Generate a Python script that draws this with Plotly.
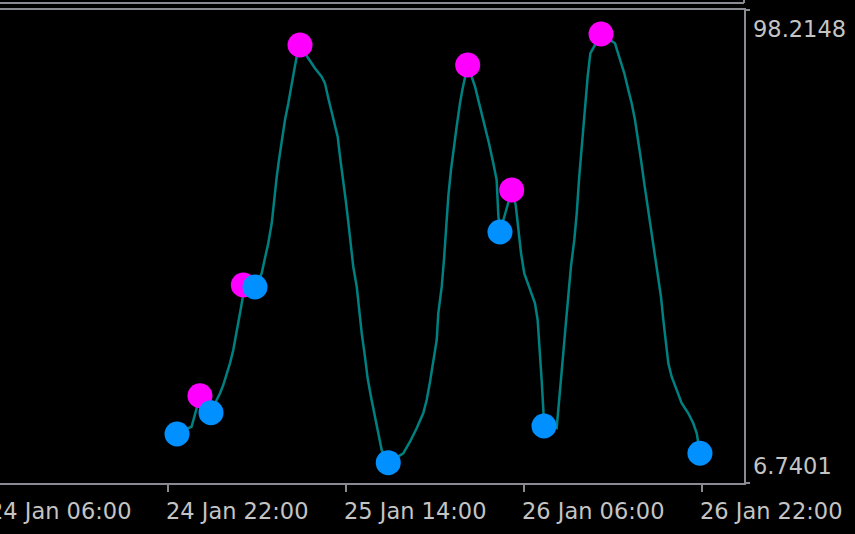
import pandas as pd
import plotly.graph_objects as go

# ---- data (hours after 24 Jan 22:00, indicator values) ----
base_time = "2024-01-24 22:00"

line_hours = [0.84, 2.15, 2.60, 2.90, 3.35, 3.89, 4.40, 4.70, 4.99, 5.30, 5.59, 5.89,
              6.19, 6.49, 6.73, 6.79, 7.84, 8.44, 8.73, 9.03, 9.34, 9.54, 9.79, 9.99,
              10.23, 10.53, 10.83, 11.07, 11.36, 11.58, 11.88, 12.62, 13.22, 13.82,
              14.12, 14.42, 14.72, 15.02, 15.26, 15.47, 15.76, 15.98, 16.21, 16.45,
              16.66, 16.97, 17.17, 17.42, 17.71, 17.95, 18.25, 18.55, 18.85, 19.21,
              19.80, 21.15, 21.75, 22.35, 22.94, 23.25, 23.55, 23.84, 24.15, 24.29,
              24.60, 24.80, 24.98, 25.19, 25.43, 25.64, 25.94, 26.24, 26.45, 26.93,
              27.59, 28.03, 28.48, 28.84, 29.23, 29.53, 29.68, 29.83, 30.49, 30.88,
              31.24, 31.47, 31.72, 32.01, 32.32, 32.68, 32.97, 33.21, 33.42, 33.57,
              33.72, 33.78, 34.92, 35.06, 35.31, 35.51, 35.73, 35.96, 36.20, 36.50,
              36.72, 36.92, 37.16, 37.46, 37.70, 37.94, 38.90, 40.15, 40.45, 40.75,
              40.99, 41.35, 41.65, 41.95, 42.24, 42.49, 42.78, 43.09, 43.38, 43.68,
              43.99, 44.28, 44.49, 44.70, 44.94, 45.24, 45.69, 46.14, 46.73, 47.18,
              47.49, 47.78]
line_values = [16.22, 17.63, 21.19, 23.57, 22.21, 20.47, 22.79, 24.09, 25.69, 27.63, 29.89, 32.46,
               35.69, 39.56, 42.46, 45.03, 44.65, 47.29, 50.20, 53.10, 56.97, 61.47, 65.98, 69.21,
               73.08, 76.94, 80.17, 83.38, 86.61, 89.18, 91.45, 88.87, 86.94, 85.32,
               84.04, 81.14, 78.55, 76.31, 73.71, 69.85, 65.34, 61.47, 57.28, 52.44,
               48.57, 44.71, 40.20, 35.69, 31.17, 26.99, 23.43, 20.22, 16.35, 13.12,
               10.67, 12.49, 14.73, 17.32, 20.22, 22.79, 26.33, 30.53, 34.40, 39.56,
               44.71, 49.87, 56.31, 62.11, 67.27, 71.14, 75.65, 80.17, 82.74, 87.58,
               83.38, 79.52, 75.65, 72.44, 68.57, 65.34, 58.57, 55.28, 60.31, 63.41,
               60.51, 56.31, 51.17, 47.29, 45.36, 43.43, 41.50, 38.27, 32.46, 26.66,
               20.86, 17.77, 17.38, 21.19, 26.66, 31.82, 37.30, 43.10, 48.57, 53.74,
               58.90, 65.34, 71.78, 78.88, 85.32, 89.84, 93.57, 91.78, 89.84, 87.91,
               85.97, 82.74, 80.17, 76.94, 73.08, 69.21, 64.70, 60.18, 55.67, 51.80,
               47.29, 42.77, 38.27, 33.76, 29.89, 27.30, 24.73, 22.16, 20.22, 18.29,
               16.35, 12.49]

peak_hours = [2.90, 6.79, 11.88, 26.93, 30.88, 38.90]
peak_values = [23.62, 45.03, 91.45, 87.58, 63.41, 93.57]

trough_hours = [0.84, 3.89, 7.84, 19.80, 29.83, 33.78, 47.78]
trough_values = [16.22, 20.34, 44.65, 10.67, 55.28, 17.77, 12.49]

tick_times = ["2024-01-24 22:00", "2024-01-25 14:00", "2024-01-26 06:00", "2024-01-26 22:00"]
tick_labels = ["24 Jan 22:00", "25 Jan 14:00", "26 Jan 06:00", "26 Jan 22:00"]
cut_label = "24 Jan 06:00"
x_range = ["2024-01-24 06:57", "2024-01-27 01:44"]
y_max_label, y_min_label = 98.2148, 6.7401

# ---- build ----
t0 = pd.Timestamp(base_time)
to_time = lambda hs: [t0 + pd.Timedelta(hours=h) for h in hs]

GRID = "#8a8a92"
TXT = "#c4c4c4"
FONT = "DejaVu Sans"
FS = 22.5

fig = go.Figure()
fig.add_trace(go.Scatter(x=to_time(line_hours), y=line_values, mode="lines",
                         line=dict(color="#008080", width=2.5), hoverinfo="skip"))
fig.add_trace(go.Scatter(x=to_time(peak_hours), y=peak_values, mode="markers",
                         marker=dict(color="#ff00ff", size=25, line=dict(width=0)),
                         cliponaxis=False))
fig.add_trace(go.Scatter(x=to_time(trough_hours), y=trough_values, mode="markers",
                         marker=dict(color="#0090ff", size=25, line=dict(width=0)),
                         cliponaxis=False))

annotations = []
for t, lab in zip(tick_times, tick_labels):
    annotations.append(dict(x=t, xref="x", y=0, yref="paper", text=lab, showarrow=False,
                            xanchor="left", yanchor="middle", xshift=-4, yshift=-28,
                            font=dict(family=FONT, size=FS, color=TXT)))
annotations.append(dict(x=0, xref="paper", y=0, yref="paper", text=cut_label, showarrow=False,
                        xanchor="left", yanchor="middle", xshift=-13, yshift=-28,
                        font=dict(family=FONT, size=FS, color=TXT)))
annotations.append(dict(x=1, xref="paper", y=1, yref="paper", text=f"{y_max_label:.4f}",
                        showarrow=False, xanchor="left", yanchor="middle", xshift=7, yshift=-19,
                        font=dict(family=FONT, size=FS, color=TXT)))
annotations.append(dict(x=1, xref="paper", y=0, yref="paper", text=f"{y_min_label:.4f}",
                        showarrow=False, xanchor="left", yanchor="middle", xshift=7, yshift=17,
                        font=dict(family=FONT, size=FS, color=TXT)))

shapes = [
    dict(type="line", xref="paper", yref="paper", x0=0, x1=1, y0=1.0148, y1=1.0148,
         line=dict(color=GRID, width=2)),
    dict(type="line", xref="paper", yref="paper", x0=1, x1=1, y0=1.0148, y1=1.03,
         line=dict(color=GRID, width=2)),
]

fig.update_layout(
    width=855, height=534,
    margin=dict(l=0, r=111, t=10, b=51, pad=0),
    paper_bgcolor="#000000", plot_bgcolor="#000000",
    showlegend=False,
    annotations=annotations,
    shapes=shapes,
    xaxis=dict(type="date", range=x_range, showgrid=False, zeroline=False,
               showline=True, linecolor=GRID, linewidth=2, mirror=True,
               tickmode="array", tickvals=tick_times, showticklabels=False,
               ticks="outside", ticklen=7, tickwidth=2, tickcolor=GRID, automargin=False),
    yaxis=dict(range=[y_min_label, y_max_label], side="right", showgrid=False, zeroline=False,
               showline=True, linecolor=GRID, linewidth=2,
               tickmode="array", tickvals=[y_min_label, y_max_label], showticklabels=False,
               ticks="outside", ticklen=4, tickwidth=2, tickcolor=GRID, automargin=False),
)

fig.write_html("out.html", config={"displayModeBar": False},
               post_script="document.body.style.margin='0';document.body.style.background='#000';"
                           "document.body.style.overflow='hidden';")
